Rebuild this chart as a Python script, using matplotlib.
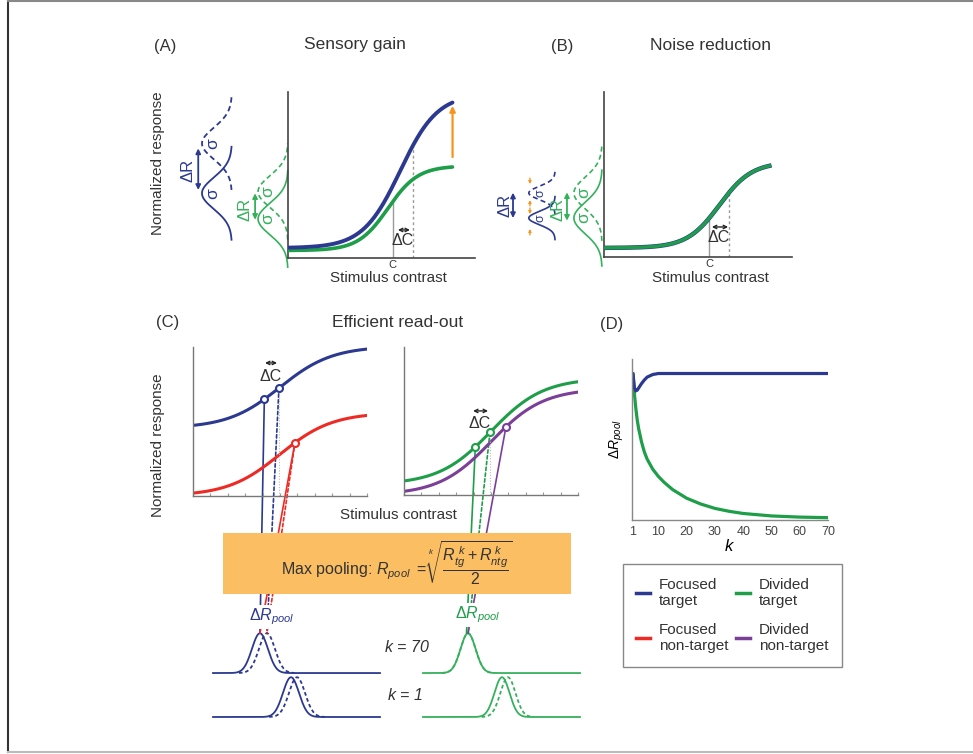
import numpy as np
import matplotlib
matplotlib.use('Agg')
import matplotlib.pyplot as plt
from matplotlib.lines import Line2D
from matplotlib.patches import ConnectionPatch

plt.rcParams['font.family'] = ['Liberation Sans', 'DejaVu Sans']
plt.rcParams['mathtext.fontset'] = 'custom'
plt.rcParams['mathtext.rm'] = 'Liberation Sans'
plt.rcParams['mathtext.it'] = 'Liberation Sans:italic'
plt.rcParams['mathtext.bf'] = 'Liberation Sans:bold'
plt.rcParams['text.color'] = '#333333'

W, H = 973, 754

BLUE = '#2B3990'
GREEN = '#1E9E49'
LIGHT_GREEN = '#35B15C'
RED = '#EE2A24'
PURPLE = '#7B3F98'
ORANGE = '#F7941D'
BOX = '#FBBE63'
AXIS = '#444444'

# contrast-response curves: baseline, amplitude, midpoint, width
GAIN_FOCUSED = [0.06, 0.93, 0.60, 0.10]
GAIN_DIVIDED = [0.045, 0.51, 0.535, 0.08]
NOISE_SHARED = [0.055, 0.52, 0.614, 0.086]
READ_FOC_TARGET = [0.455, 0.55, 0.50, 0.15]
READ_FOC_NONTARGET = [0.0, 0.56, 0.50, 0.15]
READ_DIV_TARGET = [0.07, 0.72, 0.50, 0.15]
READ_DIV_NONTARGET = [0.0, 0.72, 0.50, 0.15]

# contrast levels marked on the curves
GAIN_C = [0.56, 0.668]
NOISE_C = [0.56, 0.665]
READ_TARGET_C = [0.41, 0.494]
READ_NONTARGET_C = 0.586
SATURATION_C = 0.88

# response distributions (centre at C, centre at C+dC)
GAIN_BLUE_MU = [0.39, 0.69]
GAIN_GREEN_MU = [0.235, 0.40]
NOISE_MU = [0.236, 0.388]

# pooled response distributions: solid / dashed peak position
POOL_FOC_K70 = [0.281, 0.323]
POOL_FOC_K1 = [0.467, 0.503]
POOL_DIV_K70 = [0.287, 0.287]
POOL_DIV_K1 = [0.503, 0.541]

# panel D: pooled response difference against k
K_VALUES = [1, 1.5, 2, 2.5, 3, 4, 5, 6, 8, 10, 12, 15, 20, 25, 30, 35, 40, 50, 60, 70]
FOCUSED_DR = [1.0, 0.90, 0.88, 0.885, 0.90, 0.93, 0.955, 0.975, 0.993, 1.0, 1.0,
              1.0, 1.0, 1.0, 1.0, 1.0, 1.0, 1.0, 1.0, 1.0]
DIVIDED_DR = [1.0, 0.86, 0.76, 0.68, 0.62, 0.53, 0.46, 0.41, 0.34, 0.29, 0.25,
              0.20, 0.14, 0.10, 0.07, 0.05, 0.035, 0.018, 0.01, 0.006]
K_TICKS = [1, 10, 20, 30, 40, 50, 60, 70]


def crf(c, p):
    b, a, c0, s = p
    return b + a / (1.0 + np.exp(-(np.asarray(c) - c0) / s))


fig = plt.figure(figsize=(W / 100, H / 100), dpi=100)


def px_axes(l, t, r, b, **kw):
    return fig.add_axes([l / W, 1 - b / H, (r - l) / W, (b - t) / H], **kw)


def ftext(x, y, s, **kw):
    return fig.text(x / W, 1 - y / H, s, **kw)


def bare(ax, color=AXIS, lw=1.2):
    for side in ('top', 'right'):
        ax.spines[side].set_visible(False)
    for side in ('left', 'bottom'):
        ax.spines[side].set_color(color)
        ax.spines[side].set_linewidth(lw)
    ax.set_xticks([])
    ax.set_yticks([])
    ax.set_xlim(0, 1)
    ax.set_ylim(0, 1)
    ax.patch.set_alpha(0)


def sideways(ax, base, amp, mu, sd, span, **kw):
    y = np.linspace(mu - span, mu + span, 200)
    x = base - amp * np.exp(-0.5 * ((y - mu) / sd) ** 2)
    ax.plot(x, y, clip_on=False, **kw)


def sigma(ax, x, y, color, size=12.5):
    ax.text(x, y, 'σ', color=color, fontsize=size, rotation=90,
            ha='center', va='center')


def dc_arrow(ax, x0, x1, y):
    ax.annotate('', xy=(x1, y), xytext=(x0, y),
                arrowprops=dict(arrowstyle='<->', color='#222222', lw=1.0,
                                shrinkA=0, shrinkB=0, mutation_scale=6))


def dr_arrow(ax, x, y0, y1, color):
    ax.annotate('', xy=(x, y1), xytext=(x, y0), annotation_clip=False,
                arrowprops=dict(arrowstyle='<|-|>', color=color, lw=1.3,
                                shrinkA=0, shrinkB=0, mutation_scale=7))


cc = np.linspace(0, 1, 300)
dash = (0, (3, 2))

# ---------------- (A) sensory gain ----------------
axA = px_axes(288, 92, 475, 258)
bare(axA)
cA = cc[cc <= SATURATION_C]
axA.plot(cA, crf(cA, GAIN_DIVIDED), color=GREEN, lw=2.6, solid_capstyle='round', zorder=3)
axA.plot(cA, crf(cA, GAIN_FOCUSED), color=BLUE, lw=2.8, solid_capstyle='round', zorder=3)
axA.plot([GAIN_C[0]] * 2, [0, crf(GAIN_C[0], GAIN_DIVIDED)], color='#9a9a9a', lw=1)
axA.plot([GAIN_C[1]] * 2, [0, crf(GAIN_C[1], GAIN_FOCUSED)], color='#9a9a9a', lw=1,
         linestyle=(0, (2, 2)))
axA.annotate('', xy=(SATURATION_C, crf(SATURATION_C, GAIN_FOCUSED) - 0.02),
             xytext=(SATURATION_C, crf(SATURATION_C, GAIN_DIVIDED) + 0.06),
             arrowprops=dict(arrowstyle='-|>', color=ORANGE, lw=1.6,
                             shrinkA=0, shrinkB=0, mutation_scale=8))
dc_arrow(axA, 0.588, 0.652, 0.169)
axA.text(0.615, 0.105, 'ΔC', fontsize=11.5, ha='center', va='center')
axA.text(GAIN_C[0], -0.045, 'C', fontsize=8, ha='center', va='center')

for mu, ls in zip(GAIN_BLUE_MU, ['-', dash]):
    sideways(axA, -0.30, 0.16, mu, 0.095, 0.28, color=BLUE, lw=1.3, linestyle=ls)
    sigma(axA, -0.40, mu, BLUE)
for mu, ls in zip(GAIN_GREEN_MU, ['-', dash]):
    sideways(axA, 0.0, 0.16, mu, 0.095, 0.29, color=LIGHT_GREEN, lw=1.2, linestyle=ls)
    sigma(axA, -0.107, mu, LIGHT_GREEN)
dr_arrow(axA, -0.48, 0.41, 0.66, BLUE)
axA.text(-0.535, 0.53, 'ΔR', color=BLUE, fontsize=12, rotation=90,
         ha='center', va='center')
dr_arrow(axA, -0.176, 0.23, 0.39, LIGHT_GREEN)
axA.text(-0.23, 0.29, 'ΔR', color=LIGHT_GREEN, fontsize=12, rotation=90,
         ha='center', va='center')

ftext(165, 47, '(A)', fontsize=12, ha='center', va='center')
ftext(355, 45, 'Sensory gain', fontsize=12.5, ha='center', va='center')
ftext(158, 163, 'Normalized response', fontsize=11, rotation=90, ha='center', va='center')
ftext(388, 278, 'Stimulus contrast', fontsize=11, ha='center', va='center')

# ---------------- (B) noise reduction ----------------
axB = px_axes(604, 92, 792, 257)
bare(axB)
cB = cc[cc <= SATURATION_C]
axB.plot(cB, crf(cB, NOISE_SHARED), color=BLUE, lw=3.2, zorder=3)
axB.plot(cB, crf(cB, NOISE_SHARED), color=GREEN, lw=2.4, zorder=3)
axB.plot([NOISE_C[0]] * 2, [0, crf(NOISE_C[0], NOISE_SHARED)], color='#9a9a9a', lw=1)
axB.plot([NOISE_C[1]] * 2, [0, crf(NOISE_C[1], NOISE_SHARED)], color='#9a9a9a', lw=1,
         linestyle=(0, (2, 2)))
dc_arrow(axB, 0.574, 0.66, 0.182)
axB.text(0.612, 0.118, 'ΔC', fontsize=11.5, ha='center', va='center')
axB.text(NOISE_C[0], -0.045, 'C', fontsize=8, ha='center', va='center')

for mu, ls in zip(NOISE_MU, ['-', dash]):
    sideways(axB, -0.01, 0.15, mu, 0.095, 0.29, color=LIGHT_GREEN, lw=1.2, linestyle=ls)
    sigma(axB, -0.106, mu, LIGHT_GREEN)
    sideways(axB, -0.26, 0.14, mu, 0.04, 0.13, color=BLUE, lw=1.2, linestyle=ls)
    sigma(axB, -0.34, mu, BLUE, size=9)
# orange arrows squeezing the narrow distributions
for y0, y1 in [(0.479, 0.442), (0.309, 0.345), (0.297, 0.26), (0.133, 0.17)]:
    axB.annotate('', xy=(-0.394, y1), xytext=(-0.394, y0), annotation_clip=False,
                 arrowprops=dict(arrowstyle='-|>', color=ORANGE, lw=0.9,
                                 shrinkA=0, shrinkB=0, mutation_scale=4))
dr_arrow(axB, -0.484, 0.236, 0.39, BLUE)
axB.text(-0.527, 0.31, 'ΔR', color=BLUE, fontsize=12, rotation=90,
         ha='center', va='center')
dr_arrow(axB, -0.197, 0.22, 0.392, LIGHT_GREEN)
axB.text(-0.245, 0.29, 'ΔR', color=LIGHT_GREEN, fontsize=12, rotation=90,
         ha='center', va='center')

ftext(562, 47, '(B)', fontsize=12, ha='center', va='center')
ftext(710, 45, 'Noise reduction', fontsize=12.5, ha='center', va='center')
ftext(710, 278, 'Stimulus contrast', fontsize=11, ha='center', va='center')

# ---------------- (C) efficient read-out ----------------
axCL = px_axes(193, 347, 367, 496, zorder=2)
axCR = px_axes(404, 347, 578, 495, zorder=2)
for ax in (axCL, axCR):
    bare(ax, color='#777777', lw=1.0)
    ax.set_xticks(np.linspace(0, 1, 11))
    ax.set_xticklabels([])
    ax.tick_params(axis='x', direction='in', length=2, color='#999999')

axCL.plot(cc, crf(cc, READ_FOC_TARGET), color=BLUE, lw=2.2)
axCL.plot(cc, crf(cc, READ_FOC_NONTARGET), color=RED, lw=2.2)
axCR.plot(cc, crf(cc, READ_DIV_TARGET), color=GREEN, lw=2.2)
axCR.plot(cc, crf(cc, READ_DIV_NONTARGET), color=PURPLE, lw=2.2)

for ax, tp, ntp, tc, nc in [(axCL, READ_FOC_TARGET, READ_FOC_NONTARGET, BLUE, RED),
                            (axCR, READ_DIV_TARGET, READ_DIV_NONTARGET, GREEN, PURPLE)]:
    ax.plot(READ_TARGET_C, crf(READ_TARGET_C, tp), 'o', ms=5, mfc='white', mec=tc,
            mew=1.5, zorder=4)
    ax.plot([READ_NONTARGET_C], [crf(READ_NONTARGET_C, ntp)], 'o', ms=5, mfc='white',
            mec=nc, mew=1.5, zorder=4)
    ax.plot([READ_TARGET_C[1]] * 2, [0, crf(READ_TARGET_C[1], tp)], color='#bbbbbb',
            lw=0.8, linestyle=(0, (1, 1.5)))

dc_arrow(axCL, 0.414, 0.483, 0.893)
axCL.text(0.448, 0.805, 'ΔC', fontsize=11.5, ha='center', va='center')
dc_arrow(axCR, 0.397, 0.483, 0.568)
axCR.text(0.437, 0.486, 'ΔC', fontsize=11.5, ha='center', va='center')

ftext(168, 323, '(C)', fontsize=12, ha='center', va='center')
ftext(398, 323, 'Efficient read-out', fontsize=12.5, ha='center', va='center')
ftext(158, 445, 'Normalized response', fontsize=11, rotation=90, ha='center', va='center')
ftext(398, 515, 'Stimulus contrast', fontsize=11, ha='center', va='center')

# pooled response distributions
axGL = px_axes(213, 620, 380, 722)
axGR = px_axes(423, 620, 580, 722)
BASE_K70, BASE_K1, AMP, SD = 0.48, 0.049, 0.39, 0.048
xx = np.linspace(0, 1, 400)
for ax, k70, k1, col in [(axGL, POOL_FOC_K70, POOL_FOC_K1, BLUE),
                         (axGR, POOL_DIV_K70, POOL_DIV_K1, LIGHT_GREEN)]:
    ax.set_xlim(0, 1)
    ax.set_ylim(0, 1)
    ax.axis('off')
    for base, mus in [(BASE_K70, k70), (BASE_K1, k1)]:
        ax.plot(xx, base + AMP * np.exp(-0.5 * ((xx - mus[0]) / SD) ** 2),
                color=col, lw=1.3, clip_on=False)
        xd = xx[np.abs(xx - mus[1]) < 3.5 * SD]
        ax.plot(xd, base + AMP * np.exp(-0.5 * ((xd - mus[1]) / SD) ** 2),
                color=col, lw=1.3, linestyle=(0, (2, 1.5)), clip_on=False)

peak = BASE_K70 + AMP
links = [
    (axCL, READ_TARGET_C[0], READ_FOC_TARGET, axGL, POOL_FOC_K70[0], BLUE, '-'),
    (axCL, READ_TARGET_C[1], READ_FOC_TARGET, axGL, POOL_FOC_K70[1], BLUE, (0, (2, 1.5))),
    (axCL, READ_NONTARGET_C, READ_FOC_NONTARGET, axGL, POOL_FOC_K70[0], RED, '-'),
    (axCL, READ_NONTARGET_C, READ_FOC_NONTARGET, axGL, POOL_FOC_K70[1], RED, (0, (2, 1.5))),
    (axCR, READ_TARGET_C[0], READ_DIV_TARGET, axGR, POOL_DIV_K70[0] - 0.01, GREEN, '-'),
    (axCR, READ_TARGET_C[1], READ_DIV_TARGET, axGR, POOL_DIV_K70[1], GREEN, (0, (2, 1.5))),
    (axCR, READ_NONTARGET_C, READ_DIV_NONTARGET, axGR, POOL_DIV_K70[0], PURPLE, '-'),
]
for axa, c, p, axb, mu, col, ls in links:
    con = ConnectionPatch(xyA=(c, crf(c, p)), coordsA=axa.transData,
                          xyB=(mu, peak), coordsB=axb.transData,
                          color=col, lw=1.2, linestyle=ls, zorder=1)
    fig.add_artist(con)

ftext(272, 617, r'$\Delta R_{pool}$', color=BLUE, fontsize=11.5, ha='center', va='center',
      zorder=6, bbox=dict(facecolor='white', edgecolor='none', pad=1))
ftext(478, 615, r'$\Delta R_{pool}$', color=GREEN, fontsize=11.5, ha='center', va='center',
      zorder=6, bbox=dict(facecolor='white', edgecolor='none', pad=1))
ftext(407, 647, r'$k$ = 70', fontsize=11.5, style='italic', ha='center', va='center')
ftext(405, 695, r'$k$ = 1', fontsize=11.5, style='italic', ha='center', va='center')

# max pooling box
axBox = px_axes(223, 533, 571, 594, zorder=10)
axBox.set_facecolor(BOX)
axBox.set_xticks([])
axBox.set_yticks([])
for s in axBox.spines.values():
    s.set_visible(False)
axBox.text(0.5, 0.5,
           r'Max pooling: $R_{pool}\ =\sqrt[k]{\dfrac{R_{tg}^{\ k} + R_{ntg}^{\ k}}{2}}$',
           fontsize=11.5, ha='center', va='center', transform=axBox.transAxes)

# ---------------- (D) pooled difference vs k ----------------
axD = px_axes(632, 359, 828, 520)
for side in ('top', 'right'):
    axD.spines[side].set_visible(False)
for side in ('left', 'bottom'):
    axD.spines[side].set_color('#888888')
    axD.spines[side].set_linewidth(1.0)
axD.plot(K_VALUES, DIVIDED_DR, color=GREEN, lw=2.3, solid_capstyle='round')
axD.plot(K_VALUES, FOCUSED_DR, color=BLUE, lw=2.3, solid_capstyle='round')
axD.set_xlim(0.65, 70)
axD.set_ylim(-0.01, 1.1)
axD.set_xticks(K_TICKS)
axD.set_yticks([])
axD.tick_params(axis='x', length=0, pad=4, labelsize=9, labelcolor='#444444')
axD.set_xlabel(r'$k$', fontsize=12, labelpad=0)
axD.set_ylabel(r'$\Delta R_{pool}$', fontsize=10, labelpad=4)
ftext(612, 325, '(D)', fontsize=12, ha='center', va='center')

handles = [Line2D([], [], color=BLUE, lw=2.5), Line2D([], [], color=RED, lw=2.5),
           Line2D([], [], color=GREEN, lw=2.5), Line2D([], [], color=PURPLE, lw=2.5)]
labels = ['Focused\ntarget', 'Focused\nnon-target', 'Divided\ntarget', 'Divided\nnon-target']
leg = fig.legend(handles, labels, ncol=2, loc='center',
                 bbox_to_anchor=(732.5 / W, 1 - 615.5 / H), fontsize=11,
                 frameon=True, fancybox=False, edgecolor='#888888', framealpha=1,
                 handlelength=0.9, handletextpad=0.6, columnspacing=0.5,
                 labelspacing=1.0, borderpad=0.9, borderaxespad=0)
for t in leg.get_texts():
    t.set_linespacing(1.2)
leg.get_frame().set_linewidth(1.0)

# outer frame
fig.add_artist(Line2D([8 / W, 8 / W], [1 - 1 / H, 1 - 752 / H], color='#333333', lw=1.5))
fig.add_artist(Line2D([8 / W, 1], [1 - 1 / H, 1 - 1 / H], color='#888888', lw=1.5))
fig.add_artist(Line2D([8 / W, 1], [1 - 752 / H, 1 - 752 / H], color='#bbbbbb', lw=1.5))

fig.savefig('out.png', dpi=100)
